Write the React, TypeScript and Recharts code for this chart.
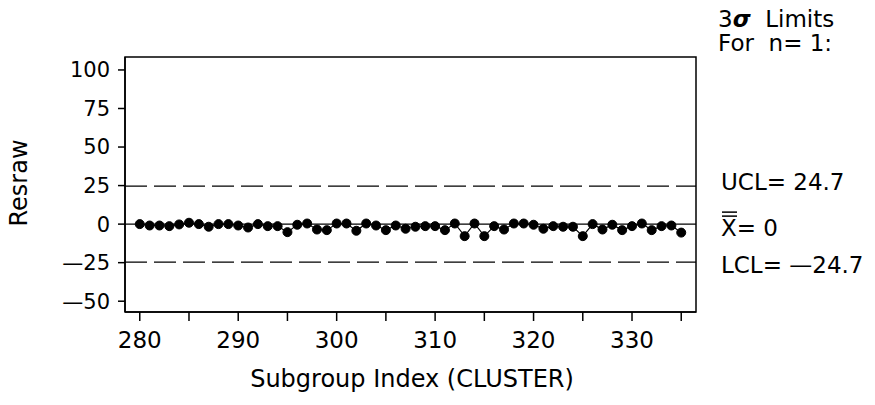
import React from "react";
import {
  LineChart,
  Line,
  XAxis,
  YAxis,
  ReferenceLine,
  ReferenceArea,
  Customized,
} from "recharts";

// subgroup index (CLUSTER)
const subgroups = [
  280, 281, 282, 283, 284, 285, 286, 287, 288, 289,
  290, 291, 292, 293, 294, 295, 296, 297, 298, 299,
  300, 301, 302, 303, 304, 305, 306, 307, 308, 309,
  310, 311, 312, 313, 314, 315, 316, 317, 318, 319,
  320, 321, 322, 323, 324, 325, 326, 327, 328, 329,
  330, 331, 332, 333, 334, 335,
];

// Resraw values
const resraw = [
  0, -0.9, -0.9, -1.3, -0.2, 0.9, 0, -1.7, 0, 0,
  -0.9, -2.2, 0, -1.3, -1.3, -5.2, -0.4, 0.4, -3.5, -3.9,
  0.4, 0.4, -4.3, 0.4, -0.9, -3.9, -0.9, -3.0, -1.7, -1.3,
  -1.3, -3.9, 0.4, -7.8, 0.4, -7.8, -1.3, -3.5, 0.4, 0.4,
  -0.4, -3.0, -1.3, -1.7, -1.7, -7.8, 0, -3.5, -0.4, -3.9,
  -1.3, 0.4, -3.9, -1.3, -0.9, -5.5,
];

const xTicks = [280, 285, 290, 295, 300, 305, 310, 315, 320, 325, 330, 335];
const yTicks = [-50, -25, 0, 25, 50, 75, 100];

const UCL = 24.7;
const CENTER = 0;
const LCL = -24.7;

const xDomain = [278.5, 336.5];
const yDomain = [-57, 108.4];

const data = subgroups.map((s, i) => ({ idx: s, value: resraw[i] }));

const FONT = "DejaVu Sans";
const NB = "\u00a0";

// the old plot used a long dash as minus sign
const dashMinus = (v: number) => (v < 0 ? "\u2014" + Math.abs(v) : String(v));

function CenterLabel(props: any) {
  const vb = props.viewBox || {};
  const x = vb.x + vb.width + 25;
  const y = vb.y + 12;
  return (
    <g>
      <line x1={x + 1} x2={x + 16} y1={y - 24} y2={y - 24} stroke="#000" strokeWidth={1.5} />
      <line x1={x + 1} x2={x + 16} y1={y - 20} y2={y - 20} stroke="#000" strokeWidth={1.5} />
      <text x={x} y={y} fontSize={23} fontFamily={FONT} fill="#000">
        X= 0
      </text>
    </g>
  );
}

function Annotations() {
  return (
    <g fontFamily={FONT} fill="#000">
      <text x={718} y={27} fontSize={23}>
        3<tspan fontStyle="italic" fontWeight="bold">σ</tspan>
        {NB + NB + "Limits"}
      </text>
      <text x={718} y={51} fontSize={23}>
        {"For" + NB + NB + "n= 1:"}
      </text>
      <text
        x={27}
        y={183}
        fontSize={24}
        textAnchor="middle"
        transform="rotate(-90, 27, 183)"
      >
        Resraw
      </text>
      <text x={412} y={387} fontSize={24} textAnchor="middle">
        Subgroup Index (CLUSTER)
      </text>
    </g>
  );
}

export default function App() {
  return (
    <div style={{ position: "absolute", left: 0, top: 0, background: "#fff" }}>
      <LineChart
        width={875}
        height={405}
        data={data}
        margin={{ top: 57, right: 179, bottom: 0, left: 0 }}
        style={{ fontFamily: FONT }}
      >
        <XAxis
          dataKey="idx"
          type="number"
          domain={xDomain}
          ticks={xTicks}
          tickFormatter={(v: number) => (v % 10 === 0 ? String(v) : "")}
          tick={{ fill: "#000", fontSize: 23 }}
          tickSize={9}
          tickMargin={11}
          height={93}
          axisLine={{ stroke: "#000", strokeWidth: 1.5 }}
          tickLine={{ stroke: "#000", strokeWidth: 1.5 }}
        />
        <YAxis
          type="number"
          domain={yDomain}
          ticks={yTicks}
          tickFormatter={dashMinus}
          tick={{ fill: "#000", fontSize: 21 }}
          tickSize={7}
          tickMargin={8}
          width={125}
          axisLine={{ stroke: "#000", strokeWidth: 1.5 }}
          tickLine={{ stroke: "#000", strokeWidth: 1.5 }}
        />
        <ReferenceArea
          x1={xDomain[0]}
          x2={xDomain[1]}
          y1={yDomain[0]}
          y2={yDomain[1]}
          fill="none"
          stroke="#000"
          strokeWidth={1.5}
          ifOverflow="visible"
        />
        <ReferenceLine
          y={UCL}
          stroke="#000"
          strokeWidth={1.3}
          strokeDasharray="22 7"
          label={{
            value: "UCL= 24.7",
            position: "right",
            offset: 25,
            dy: -4,
            fill: "#000",
            fontSize: 23,
            fontFamily: FONT,
          }}
        />
        <ReferenceLine
          y={CENTER}
          stroke="#000"
          strokeWidth={1.3}
          label={<CenterLabel />}
        />
        <ReferenceLine
          y={LCL}
          stroke="#000"
          strokeWidth={1.3}
          strokeDasharray="22 7"
          label={{
            value: "LCL= " + dashMinus(LCL),
            position: "right",
            offset: 25,
            dy: 3,
            fill: "#000",
            fontSize: 23,
            fontFamily: FONT,
          }}
        />
        <Line
          type="linear"
          dataKey="value"
          stroke="#000"
          strokeWidth={1.2}
          dot={{ r: 4.5, fill: "#000", stroke: "#000", strokeWidth: 1 }}
          activeDot={false}
          isAnimationActive={false}
        />
        <Customized component={Annotations} />
      </LineChart>
    </div>
  );
}
